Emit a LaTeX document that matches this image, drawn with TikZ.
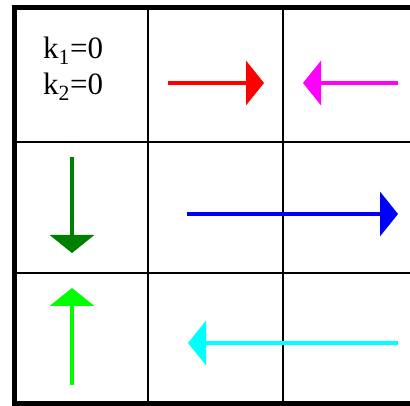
\documentclass[tikz,border=0pt]{standalone}
\usepackage{fontspec}
\setmainfont{Liberation Serif}
\usetikzlibrary{arrows.meta}
\definecolor{dgreen}{RGB}{0,128,0}
\definecolor{lgreen}{RGB}{0,255,0}
\definecolor{pmagenta}{RGB}{255,0,255}
\definecolor{pcyan}{RGB}{0,255,255}
\definecolor{pred}{RGB}{255,0,0}
\definecolor{pblue}{RGB}{0,0,255}
\begin{document}
\begin{tikzpicture}[x=1pt,y=-1pt,
  thick border/.style={line width=5pt},
  grid line/.style={line width=2.5pt},
  fluxarrow/.style={line width=4pt,-{Triangle[length=18pt,width=44pt]}},
  lbl/.style={anchor=base west,inner sep=0pt,font=\fontsize{31}{36}\selectfont}]
\useasboundingbox (0,0) rectangle (410,406);
% grid
\coordinate (tl) at (14,8);
\coordinate (tr) at (410,8);
\coordinate (bl) at (14,403);
\coordinate (br) at (410,403);
\draw[grid line] (148,8) -- (148,403);
\draw[grid line] (283,8) -- (283,403);
\draw[grid line] (14,142) -- (410,142);
\draw[grid line] (14,273) -- (410,273);
\draw[thick border] (11.5,8) -- (tr);
\draw[thick border] (14,5.5) -- (14,405.5);
\draw[thick border] (11.5,403) -- (br);
% labels
\node[lbl] (k1) at (43,59) {k\textsubscript{1}=0};
\node[lbl] (k2) at (43,95) {k\textsubscript{2}=0};
% arrows
\coordinate (r1) at (168,83); \coordinate (r2) at (264,83);
\coordinate (m1) at (398,83); \coordinate (m2) at (303,83);
\coordinate (g1) at (72,157); \coordinate (g2) at (72,253);
\coordinate (b1) at (187,214); \coordinate (b2) at (398,214);
\coordinate (l1) at (72,385); \coordinate (l2) at (72,288);
\coordinate (c1) at (398,343); \coordinate (c2) at (188,343);
\draw[fluxarrow,pred] (r1) -- (r2);
\draw[fluxarrow,pmagenta] (m1) -- (m2);
\draw[fluxarrow,dgreen] (g1) -- (g2);
\draw[fluxarrow,pblue] (b1) -- (b2);
\draw[fluxarrow,lgreen] (l1) -- (l2);
\draw[fluxarrow,pcyan] (c1) -- (c2);
\end{tikzpicture}
\end{document}
